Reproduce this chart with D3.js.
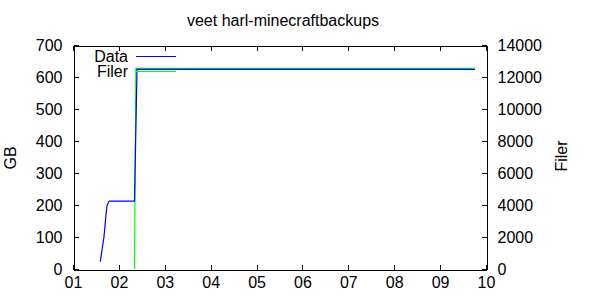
<!DOCTYPE html>
<html><head><meta charset="utf-8">
<script src="https://cdn.jsdelivr.net/npm/d3@7"></script>
<style>body{margin:0;background:#fff}svg{display:block}text{font-family:"Liberation Sans",Arial,sans-serif;fill:#000}</style>
</head><body><svg id="c" width="600" height="300"></svg>
<script>
const title = "veet harl-minecraftbackups";
const xTickValues = [1,2,3,4,5,6,7,8,9,10];
const xTickLabels = ["01","02","03","04","05","06","07","08","09","10"];
const yTicks = [0,100,200,300,400,500,600,700];
const y2Ticks = [0,2000,4000,6000,8000,10000,12000,14000];
const seriesNames = ["Data","Filer"];
// Data (GB) series: x = month position, value = GB
const dataX = [1.595, 1.675, 1.719, 1.741, 1.773, 1.795, 2.34, 2.395, 9.758];
const dataGB = [23, 100, 169, 197, 209, 212, 212, 624, 624];
// Filer series: x = month position, value = file count
const filerX = [2.34, 2.37, 9.758];
const filerN = [0, 12540, 12540];

(function(){
const svg = d3.select("#c");
const L = 73, R = 486, T = 45, B = 269;
const x = d3.scaleLinear().domain([1,10]).range([L,R]);
const y = d3.scaleLinear().domain([0,700]).range([B,T]);
const y2 = d3.scaleLinear().domain([0,14000]).range([B,T]);
const fs = 16;

svg.append("text").attr("x",283).attr("y",26).attr("text-anchor","middle").attr("font-size",16).text(title);

svg.append("defs").append("clipPath").attr("id","pc").append("rect")
  .attr("x",L).attr("y",T).attr("width",R-L).attr("height",B-T);

const g = svg.append("g").attr("clip-path","url(#pc)");
const dataPts = dataX.map((d,i)=>[d,dataGB[i]]);
const filerPts = filerX.map((d,i)=>[d,filerN[i]]);
g.append("path").datum(filerPts).attr("fill","none").attr("stroke","#00ff00").attr("stroke-width",1.2)
  .attr("d", d3.line().x(d=>x(d[0])).y(d=>y2(d[1])));
g.append("path").datum(dataPts).attr("fill","none").attr("stroke","#0000ff").attr("stroke-width",1.2)
  .attr("d", d3.line().x(d=>x(d[0])).y(d=>y(d[1])));

const tk = 5;
const ax = svg.append("g").attr("shape-rendering","crispEdges");
const aBottom = ax.append("g").attr("transform",`translate(0,${B+0.5})`)
  .call(d3.axisBottom(x).tickValues(xTickValues).tickFormat((d,i)=>xTickLabels[i]).tickSizeInner(-tk).tickSizeOuter(0).tickPadding(7));
const aTop = ax.append("g").attr("transform",`translate(0,${T+0.5})`)
  .call(d3.axisTop(x).tickValues(xTickValues).tickFormat("").tickSizeInner(-tk).tickSizeOuter(0));
const aLeft = ax.append("g").attr("transform",`translate(${L+0.5},0)`)
  .call(d3.axisLeft(y).tickValues(yTicks).tickFormat(d3.format("d")).tickSizeInner(-tk).tickSizeOuter(0).tickPadding(11));
const aRight = ax.append("g").attr("transform",`translate(${R+0.5},0)`)
  .call(d3.axisRight(y2).tickValues(y2Ticks).tickFormat(d3.format("d")).tickSizeInner(-tk).tickSizeOuter(0).tickPadding(11));
[aBottom,aTop,aLeft,aRight].forEach(a=>{
  a.selectAll("path.domain").attr("stroke","#000");
  a.selectAll("line").attr("stroke","#000");
  a.selectAll("text").attr("font-size",fs).attr("font-family","Liberation Sans, Arial, sans-serif").attr("fill","#000");
});

svg.append("text").attr("transform","translate(16,158) rotate(-90)").attr("text-anchor","middle").attr("font-size",fs).text("GB");
svg.append("text").attr("transform","translate(567,156) rotate(-90)").attr("text-anchor","middle").attr("font-size",fs).text("Filer");

const leg = svg.append("g");
const colors = ["#0000ff","#00ff00"];
seriesNames.forEach((n,i)=>{
  const yy = 56 + i*15;
  leg.append("text").attr("x",128).attr("y",yy).attr("dy","0.35em").attr("text-anchor","end").attr("font-size",fs).text(n);
  leg.append("line").attr("x1",136).attr("x2",176).attr("y1",yy+0.5).attr("y2",yy+0.5).attr("stroke",colors[i]).attr("stroke-width",1.2);
});
})();
</script></body></html>
